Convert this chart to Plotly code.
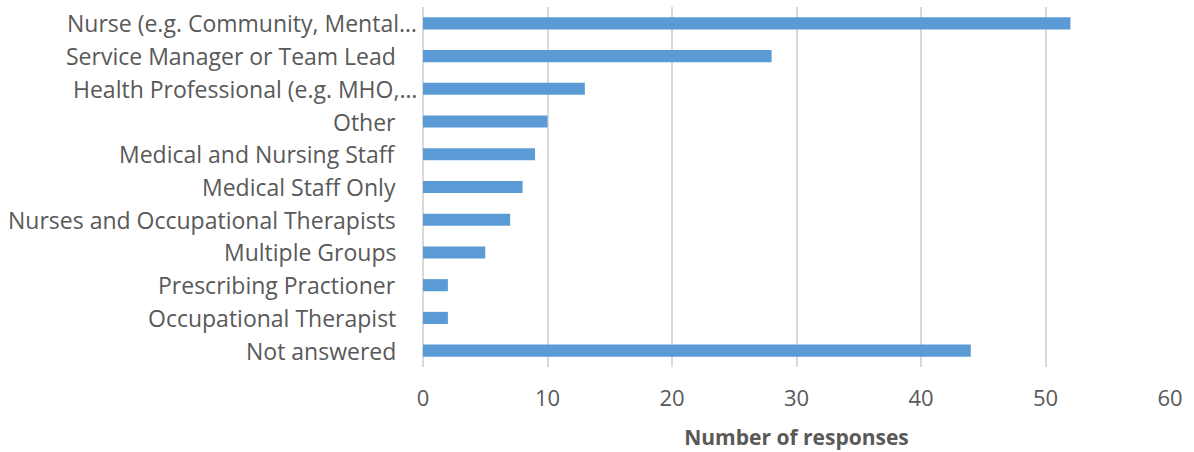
import plotly.graph_objects as go

# Respondent roles, listed top to bottom
roles = [
    "Nurse (e.g. Community, Mental…",
    "Service Manager or Team Lead",
    "Health Professional (e.g. MHO,…",
    "Other",
    "Medical and Nursing Staff",
    "Medical Staff Only",
    "Nurses and Occupational Therapists",
    "Multiple Groups",
    "Prescribing Practioner",
    "Occupational Therapist",
    "Not answered",
]
responses = [52, 28, 13, 10, 9, 8, 7, 5, 2, 2, 44]
x_ticks = [0, 10, 20, 30, 40, 50, 60]

TEXT = "#595959"
FONT = "Open Sans"

fig = go.Figure(
    go.Bar(
        y=roles,
        x=responses,
        orientation="h",
        marker=dict(color="#5b9bd5", line=dict(width=0)),
        width=0.37,
    )
)

# Category labels drawn as right-aligned annotations left of the axis
for role in roles:
    fig.add_annotation(
        x=0, y=role, xref="x", yref="y",
        text=role, showarrow=False,
        xanchor="right", yanchor="middle",
        xshift=-4 if role.endswith("…") else -25,
        font=dict(family=FONT, size=23, color=TEXT),
    )

fig.update_layout(
    width=1194, height=452,
    margin=dict(l=423, r=24, t=7, b=85),
    plot_bgcolor="white", paper_bgcolor="white",
    showlegend=False,
    font=dict(family=FONT, color=TEXT),
    xaxis=dict(
        range=[0, 60],
        tickvals=x_ticks,
        showgrid=True, gridcolor="#d9d9d9", gridwidth=1.5,
        zeroline=True, zerolinecolor="#d9d9d9", zerolinewidth=1.5,
        showline=False,
        ticks="", ticklabelstandoff=16,
        tickfont=dict(family=FONT, size=22, color=TEXT),
        title=dict(text="<b>Number of responses</b>", standoff=19,
                   font=dict(family=FONT, size=21, color=TEXT)),
    ),
    yaxis=dict(
        categoryorder="array", categoryarray=roles[::-1],
        showticklabels=False, showgrid=False, zeroline=False,
        range=[-0.5, len(roles) - 0.5],
    ),
)

fig.write_html("out.html")
